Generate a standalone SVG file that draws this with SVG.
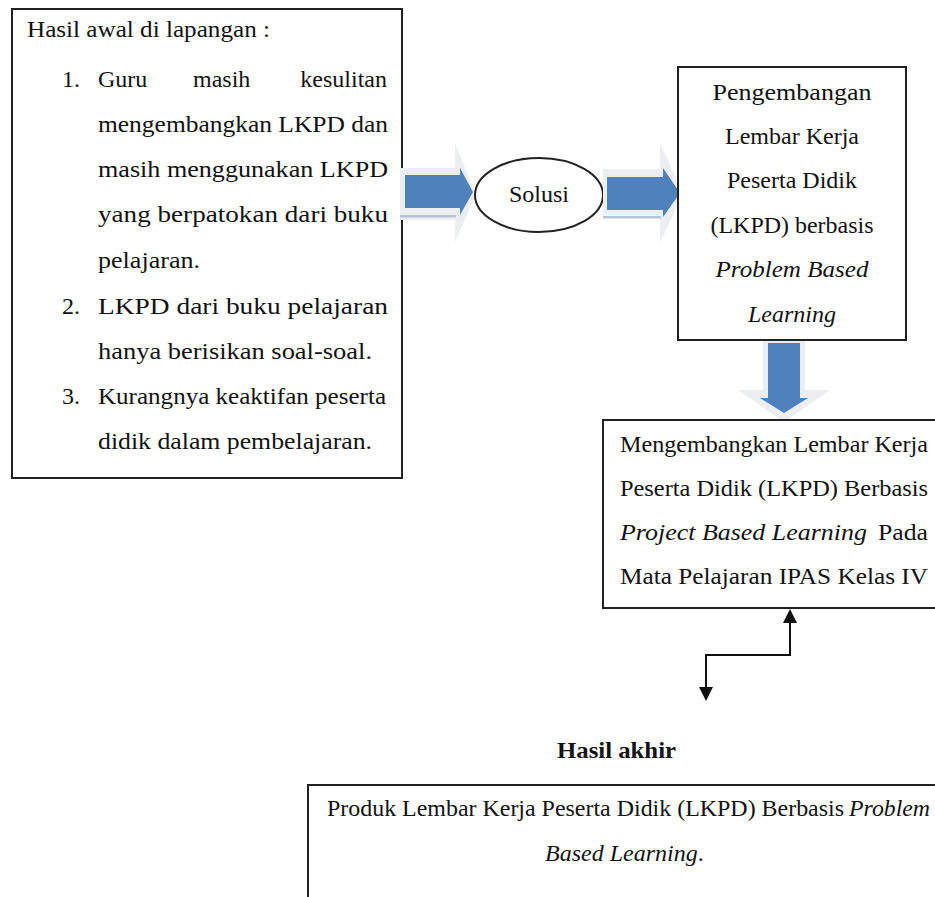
<svg xmlns="http://www.w3.org/2000/svg" width="935" height="897" viewBox="0 0 935 897">
<defs>
<style>
.t{font-family:"Liberation Serif","Times New Roman",serif;font-size:24px;fill:#111}
.i{font-style:italic}
.b{font-weight:bold}
.box{fill:#fff;stroke:#222;stroke-width:2}
.blue{fill:#4f81bd}
.ghost{fill:#eceef2}
.shade{fill:#b8c4d6}
.con{fill:none;stroke:#111;stroke-width:2}
</style>
<marker id="ah" markerUnits="userSpaceOnUse" markerWidth="14" markerHeight="16" viewBox="0 0 14 16" refX="1" refY="8" orient="auto-start-reverse">
<path d="M0,1 L14,8 L0,15 Z" fill="#111"/>
</marker>
</defs>

<g id="node-hasil-awal">
<rect class="box" x="12" y="9" width="390" height="469"/>
<text class="t" x="27" y="37" textLength="243" lengthAdjust="spacingAndGlyphs">Hasil awal di lapangan :</text>
<text class="t" x="62" y="87">1.</text>
<text class="t" x="98" y="87">Guru</text>
<text class="t" x="193" y="87">masih</text>
<text class="t" x="387" y="87" text-anchor="end">kesulitan</text>
<text class="t" x="98" y="132" textLength="290" lengthAdjust="spacingAndGlyphs">mengembangkan LKPD dan</text>
<text class="t" x="98" y="177" textLength="290" lengthAdjust="spacingAndGlyphs">masih menggunakan LKPD</text>
<text class="t" x="98" y="222" textLength="290" lengthAdjust="spacingAndGlyphs">yang berpatokan dari buku</text>
<text class="t" x="98" y="268" textLength="102" lengthAdjust="spacingAndGlyphs">pelajaran.</text>
<text class="t" x="62" y="314">2.</text>
<text class="t" x="98" y="314" textLength="290" lengthAdjust="spacingAndGlyphs">LKPD dari buku pelajaran</text>
<text class="t" x="98" y="359" textLength="274" lengthAdjust="spacingAndGlyphs">hanya berisikan soal-soal.</text>
<text class="t" x="62" y="404">3.</text>
<text class="t" x="98" y="404" textLength="288" lengthAdjust="spacingAndGlyphs">Kurangnya keaktifan peserta</text>
<text class="t" x="98" y="449" textLength="274" lengthAdjust="spacingAndGlyphs">didik dalam pembelajaran.</text>
</g>

<g id="arrow-1">
<path class="ghost" d="M400,168 H455 V143 L476,195 L455,242 V220 H400 Z"/>
<rect class="shade" x="400" y="215" width="56" height="2.5"/>
<path class="blue" d="M405,175 H460 V168 L473,192 L460,215 V208 H405 Z"/>
</g>

<g id="node-solusi">
<ellipse cx="539" cy="195" rx="64" ry="37" fill="#fff" stroke="#222" stroke-width="2"/>
<text class="t" x="539" y="202" text-anchor="middle" font-size="23">Solusi</text>
</g>

<g id="arrow-2">
<path class="ghost" d="M603,169 H660 V143 L683,193 L660,243 V215 H603 Z"/>
<rect class="shade" x="603" y="216" width="58" height="2.5"/>
<path class="blue" d="M607,177 H663 V168 L680,193 L663,217 V210 H607 Z"/>
</g>

<g id="node-pengembangan">
<rect class="box" x="678" y="67" width="228" height="273"/>
<text class="t" x="792" y="100" text-anchor="middle" textLength="159" lengthAdjust="spacingAndGlyphs">Pengembangan</text>
<text class="t" x="792" y="144" text-anchor="middle">Lembar Kerja</text>
<text class="t" x="792" y="188" text-anchor="middle">Peserta Didik</text>
<text class="t" x="792" y="233" text-anchor="middle" textLength="163" lengthAdjust="spacingAndGlyphs">(LKPD) berbasis</text>
<text class="t i" x="792" y="277" text-anchor="middle" textLength="153" lengthAdjust="spacingAndGlyphs">Problem Based</text>
<text class="t i" x="792" y="322" text-anchor="middle">Learning</text>
</g>

<g id="arrow-down">
<path class="ghost" d="M763,341 H805 V390 H830 L784,422 L738,390 H763 Z"/>
<path class="blue" d="M768,343 H800 V398 H808 L784,413 L760,398 H768 Z"/>
</g>

<g id="node-mengembangkan">
<path class="box" d="M940,420 H603 V608 H940"/>
<text class="t" x="620" y="452" textLength="308" lengthAdjust="spacingAndGlyphs">Mengembangkan Lembar Kerja</text>
<text class="t" x="620" y="496" textLength="308" lengthAdjust="spacingAndGlyphs">Peserta Didik (LKPD) Berbasis</text>
<text class="t i" x="620" y="540" textLength="247" lengthAdjust="spacingAndGlyphs">Project Based Learning</text>
<text class="t" x="878" y="540" textLength="50" lengthAdjust="spacingAndGlyphs">Pada</text>
<text class="t" x="620" y="584" textLength="308" lengthAdjust="spacingAndGlyphs">Mata Pelajaran IPAS Kelas IV</text>
</g>

<g id="connectors">
<path class="con" d="M790,622 V655 H706 V688" marker-start="url(#ah)" marker-end="url(#ah)"/>
</g>

<g id="label-hasil-akhir">
<text class="t b" x="557" y="758" font-size="22" textLength="119" lengthAdjust="spacingAndGlyphs">Hasil akhir</text>
</g>

<g id="node-produk">
<path class="box" d="M940,785 H308 V900"/>
<text class="t" x="327" y="816" textLength="517" lengthAdjust="spacingAndGlyphs">Produk Lembar Kerja Peserta Didik (LKPD) Berbasis</text>
<text class="t i" x="849" y="816" textLength="81" lengthAdjust="spacingAndGlyphs">Problem</text>
<text class="t" x="545" y="861"><tspan class="i">Based Learning</tspan>.</text>
</g>
</svg>
